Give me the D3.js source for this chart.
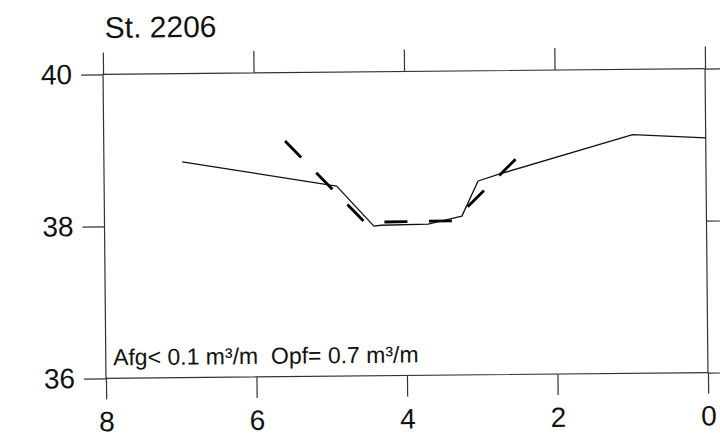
<!DOCTYPE html>
<html>
<head>
<meta charset="utf-8">
<script src="https://cdn.jsdelivr.net/npm/d3@7"></script>
<style>
  html, body { margin: 0; padding: 0; background: #fff; }
  svg { display: block; }
  text { font-family: "Liberation Sans", Arial, Helvetica, sans-serif; fill: #111; }
</style>
</head>
<body>
<svg id="chart" width="720" height="439"></svg>
<script>
// ---- data ----
const title = "St. 2206";
const annotation = "Afg< 0.1 m\u00B3/m  Opf= 0.7 m\u00B3/m";
const xTicks = [8, 6, 4, 2, 0];
const yTicks = [40, 38, 36];
// measured profile (solid)
const profileX = [6.96, 4.91, 4.42, 4.32, 3.70, 3.25, 3.03, 2.74, 0.97, 0.00];
const profileY = [38.84, 38.50, 37.97, 37.98, 37.99, 38.09, 38.55, 38.64, 39.14, 39.09];
// design profile (dashed)
const designX = [5.59, 4.54, 3.36, 2.51];
const designY = [39.10, 38.02, 38.03, 38.85];

// ---- layout ----
const svg = d3.select("#chart");
const pLeft = 104.5, pRight = 706.5, pTop = 71.5, pBottom = 375.5;
const x = d3.scaleLinear().domain([8, 0]).range([pLeft, pRight]);
const y = d3.scaleLinear().domain([36, 40]).range([pBottom, pTop]);
const axisColor = "#333";

const g = svg.append("g")
  .attr("transform", `rotate(-0.55, ${(pLeft + pRight) / 2}, ${(pTop + pBottom) / 2})`);

// frame
g.append("rect")
  .attr("x", pLeft).attr("y", pTop)
  .attr("width", pRight - pLeft).attr("height", pBottom - pTop)
  .attr("fill", "none").attr("stroke", axisColor).attr("stroke-width", 1.2);

// axes (ticks + labels)
const fmt = d3.format("d");
const axB = g.append("g").attr("transform", `translate(0,${pBottom})`)
  .call(d3.axisBottom(x).tickValues(xTicks).tickFormat(fmt).tickSize(21).tickPadding(12).tickSizeOuter(0));
const axT = g.append("g").attr("transform", `translate(0,${pTop})`)
  .call(d3.axisTop(x).tickValues(xTicks).tickSize(22).tickFormat("").tickSizeOuter(0));
const axL = g.append("g").attr("transform", `translate(${pLeft},0)`)
  .call(d3.axisLeft(y).tickValues(yTicks).tickFormat(fmt).tickSize(22).tickPadding(9).tickSizeOuter(0));
const axR = g.append("g").attr("transform", `translate(${pRight},0)`)
  .call(d3.axisRight(y).tickValues(yTicks).tickSize(22).tickFormat("").tickSizeOuter(0));

[axB, axT, axL, axR].forEach(a => {
  a.select(".domain").remove();
  a.selectAll(".tick line").attr("stroke", axisColor).attr("stroke-width", 1.2);
  a.selectAll("text").attr("font-size", 28).attr("fill", "#111")
    .attr("font-family", "'Liberation Sans', Arial, sans-serif");
});

// title
g.append("text").attr("x", 106.6).attr("y", 35)
  .attr("font-size", 30).text(title);

// annotation
g.append("text").attr("x", 111.8).attr("y", 362.5)
  .attr("font-size", 23)
  .attr("xml:space", "preserve").style("white-space", "pre")
  .text(annotation);

// lines
const line = d3.line().x(d => x(d[0])).y(d => y(d[1]));
const profile = profileX.map((v, i) => [v, profileY[i]]);
const design = designX.map((v, i) => [v, designY[i]]);

g.append("path").datum(design)
  .attr("d", line)
  .attr("fill", "none").attr("stroke", "#000")
  .attr("stroke-width", 2.8)
  .attr("stroke-dasharray", "23,21.5")
  .attr("stroke-linejoin", "round");

g.append("path").datum(profile)
  .attr("d", line)
  .attr("fill", "none").attr("stroke", "#111")
  .attr("stroke-width", 1.3)
  .attr("stroke-linejoin", "round");
</script>
</body>
</html>
